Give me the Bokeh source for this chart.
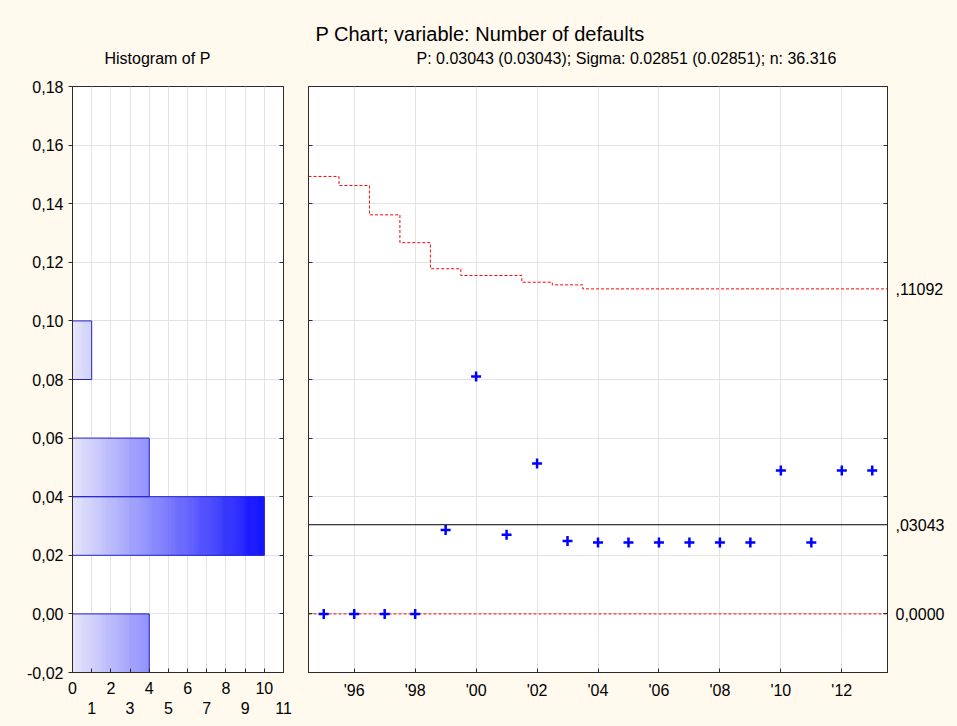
import numpy as np
from bokeh.plotting import figure
from bokeh.layouts import row, column
from bokeh.models import (FixedTicker, LinearAxis, Range1d, Grid, Span,
                          ColumnDataSource)
from bokeh.core.properties import value
from bokeh.embed import file_html
from bokeh.resources import INLINE

# ---- data -------------------------------------------------------------
years = list(range(1995, 2014))
p_values = [0.0, 0.0, 0.0, 0.0, 0.0286, 0.0810, 0.0270, 0.0513, 0.0249,
            0.0244, 0.0244, 0.0244, 0.0244, 0.0244, 0.0244, 0.0489, 0.0244,
            0.0489, 0.0489]
ucl = [0.1493, 0.1462, 0.1362, 0.1267, 0.1178, 0.1155, 0.1155, 0.1132,
       0.1123, 0.11092, 0.11092, 0.11092, 0.11092, 0.11092, 0.11092,
       0.11092, 0.11092, 0.11092, 0.11092]
lcl = [0.0] * len(years)
center_line = 0.03043
sigma = 0.02851
n_mean = 36.316

y_ticks = [-0.02, 0.0, 0.02, 0.04, 0.06, 0.08, 0.1, 0.12, 0.14, 0.16, 0.18]
bin_edges = [-0.02, 0.0, 0.02, 0.04, 0.06, 0.08, 0.1, 0.12, 0.14, 0.16, 0.18]
count_even_ticks = [0, 2, 4, 6, 8, 10]
count_odd_ticks = [1, 3, 5, 7, 9, 11]
year_ticks = [1996, 1998, 2000, 2002, 2004, 2006, 2008, 2010, 2012]
year_labels = ["'96", "'98", "'00", "'02", "'04", "'06", "'08", "'10", "'12"]

# ---- style ------------------------------------------------------------
FONT = "Liberation Sans"
BG = "#FFF9EE"
FRAME = "#2B2B2B"
GRID = "#E3E3E3"
TICK_FS = "16px"
FRAME_H = 586
HEADER_H = 70


def comma_dec(v, nd=2):
    return f"{v:.{nd}f}".replace(".", ",")


def limit_label(v):
    if v == 0:
        return "0,0000"
    return f"{v:.5f}"[1:].replace(".", ",")


y_tick_labels = {v: comma_dec(v) for v in y_ticks}

# histogram of the proportions over intervals (lo, hi]
p_arr = np.array(p_values)
eps = 1e-9
counts = [int(((p_arr > lo + eps) & (p_arr <= hi + eps)).sum())
          for lo, hi in zip(bin_edges[:-1], bin_edges[1:])]
max_count = max(counts)


def style_axis(ax, color=FRAME):
    ax.major_label_text_font = FONT
    ax.major_label_text_color = "black"
    ax.major_label_text_font_size = TICK_FS
    ax.axis_line_color = color
    ax.major_tick_line_color = color
    ax.minor_tick_line_color = color


def tick_only_axis(values, inward=4, outward=0):
    # axis that draws only short tick marks (no labels)
    return LinearAxis(ticker=FixedTicker(ticks=[], minor_ticks=values),
                      major_tick_in=0, major_tick_out=0,
                      minor_tick_in=inward, minor_tick_out=outward,
                      major_label_standoff=0)


# ---- header strip with the titles (pixel coordinates, y down) ------------
header = figure(width=957, height=HEADER_H, frame_width=957, frame_height=HEADER_H,
                min_border=0, x_range=Range1d(0, 957), y_range=Range1d(HEADER_H, 0),
                x_axis_location=None, y_axis_location=None,
                output_backend="svg", toolbar_location=None)
header.border_fill_color = BG
header.background_fill_color = BG
header.outline_line_color = None
header.grid.visible = False

subtitle = (f"P: {center_line:.5f} ({center_line:.5f}); "
            f"Sigma: {sigma:.5f} ({sigma:.5f}); n: {n_mean:.3f}")
header.text(x=[315], y=[33], text=["P Chart; variable:  Number of defaults"],
            text_font=value(FONT), text_font_size="20px", text_color="black",
            text_align="left", text_baseline="middle")
header.text(x=[104, 416], y=[58, 58], text=["Histogram of P", subtitle],
            text_font=value(FONT), text_font_size="16px", text_color="black",
            text_align="left", text_baseline="middle")

TOP = 86 - HEADER_H

# ---- histogram panel ---------------------------------------------------
hist = figure(frame_width=211, frame_height=FRAME_H,
              min_border_left=72, min_border_right=13,
              min_border_top=TOP, min_border_bottom=54,
              x_range=Range1d(0, 11), y_range=Range1d(-0.02, 0.18),
              x_axis_location=None, y_axis_location=None,
              output_backend="svg", toolbar_location=None)
hist.border_fill_color = BG
hist.background_fill_color = "white"
hist.outline_line_color = FRAME
hist.grid.visible = False

hist.add_layout(Grid(dimension=0, ticker=FixedTicker(ticks=list(range(0, 12))),
                     grid_line_color=GRID))
hist.add_layout(Grid(dimension=1, ticker=FixedTicker(ticks=y_ticks),
                     grid_line_color=GRID))

# gradient-filled bars, built from thin slices along the count axis
light = np.array([230, 230, 252])
dark = np.array([10, 10, 255])
step = 0.05
sl = dict(left=[], right=[], bottom=[], top=[], color=[])
for lo, hi, c in zip(bin_edges[:-1], bin_edges[1:], counts):
    if c == 0:
        continue
    k = int(round(c / step))
    for i in range(k):
        a, b = i * step, min((i + 1) * step, c)
        t = ((a + b) / 2) / max_count
        rgb = (light + (dark - light) * t).round().astype(int)
        sl["left"].append(a)
        sl["right"].append(b)
        sl["bottom"].append(lo)
        sl["top"].append(hi)
        sl["color"].append("#%02x%02x%02x" % tuple(rgb))
hist.quad(left="left", right="right", bottom="bottom", top="top",
          fill_color="color", line_color="color", line_width=0.6,
          source=ColumnDataSource(sl))
nz = [(lo, hi, c) for lo, hi, c in zip(bin_edges[:-1], bin_edges[1:], counts) if c > 0]
hist.quad(left=0, right=[c for _, _, c in nz], bottom=[lo for lo, _, _ in nz],
          top=[hi for _, hi, _ in nz], fill_color=None, line_color="#2626CC",
          line_width=1)

ax_l = LinearAxis(ticker=FixedTicker(ticks=y_ticks),
                  major_label_overrides=y_tick_labels,
                  major_tick_in=0, major_tick_out=4,
                  minor_tick_in=0, minor_tick_out=0,
                  major_label_standoff=5)
ax_r = tick_only_axis(y_ticks)
ax_b1 = LinearAxis(ticker=FixedTicker(ticks=count_even_ticks, minor_ticks=count_odd_ticks),
                   major_tick_in=4, major_tick_out=0,
                   minor_tick_in=4, minor_tick_out=0,
                   major_label_standoff=9)
ax_b2 = LinearAxis(ticker=FixedTicker(ticks=count_odd_ticks),
                   major_tick_in=0, major_tick_out=0,
                   minor_tick_in=0, minor_tick_out=0,
                   major_label_standoff=5)
for ax, side in [(ax_l, "left"), (ax_r, "right"), (ax_b1, "below"), (ax_b2, "below")]:
    style_axis(ax)
    hist.add_layout(ax, side)
ax_b2.axis_line_color = None
ax_b2.major_tick_line_color = None

# ---- control chart panel ------------------------------------------------
main = figure(frame_width=579, frame_height=FRAME_H,
              min_border_left=12, min_border_right=70,
              min_border_top=TOP, min_border_bottom=54,
              x_range=Range1d(years[0] - 0.5, years[-1] + 0.5),
              y_range=Range1d(-0.02, 0.18),
              x_axis_location=None, y_axis_location=None,
              output_backend="svg", toolbar_location=None)
main.border_fill_color = BG
main.background_fill_color = "white"
main.outline_line_color = FRAME
main.grid.visible = False
main.add_layout(Grid(dimension=0, ticker=FixedTicker(ticks=year_ticks),
                     grid_line_color=GRID))
main.add_layout(Grid(dimension=1, ticker=FixedTicker(ticks=y_ticks),
                     grid_line_color=GRID))


def step_path(xc, yv):
    xs, ys = [], []
    for x, y in zip(xc, yv):
        xs += [x - 0.5, x + 0.5]
        ys += [y, y]
    return xs, ys


ux, uy = step_path(years, ucl)
lx, ly = step_path(years, lcl)
main.line(ux, uy, line_color="red", line_dash="3 2", line_width=1)
main.line(lx, ly, line_color="red", line_dash="3 2", line_width=1)
main.add_layout(Span(location=center_line, dimension="width",
                     line_color="black", line_width=1))
main.scatter(years, p_values, marker="cross", size=10, line_width=2.5,
             line_color="blue")

m_l = tick_only_axis(y_ticks)
limit_vals = [ucl[-1], center_line, lcl[-1]]
m_r = LinearAxis(ticker=FixedTicker(ticks=limit_vals, minor_ticks=y_ticks),
                 major_label_overrides={v: limit_label(v) for v in limit_vals},
                 major_tick_in=0, major_tick_out=0,
                 minor_tick_in=4, minor_tick_out=0,
                 major_label_standoff=8)
m_b = LinearAxis(ticker=FixedTicker(ticks=year_ticks),
                 major_label_overrides=dict(zip(year_ticks, year_labels)),
                 major_tick_in=4, major_tick_out=0,
                 minor_tick_in=0, minor_tick_out=0,
                 major_label_standoff=9)
for ax, side in [(m_l, "left"), (m_r, "right"), (m_b, "below")]:
    style_axis(ax)
    main.add_layout(ax, side)

layout = column(header, row(hist, main, spacing=0), spacing=0)
layout.styles = {"background-color": BG}

open("out.html", "w").write(file_html(layout, INLINE, title="P Chart"))
